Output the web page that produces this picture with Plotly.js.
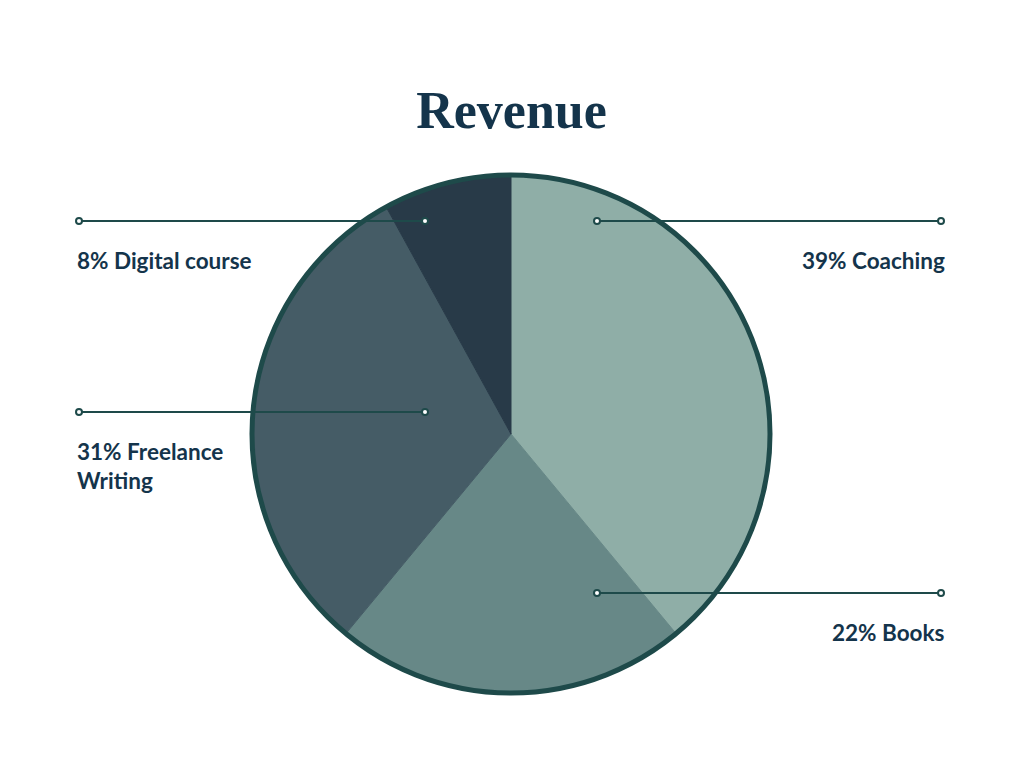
<!DOCTYPE html>
<html>
<head>
<meta charset="utf-8">
<script src="https://cdn.plot.ly/plotly-3.0.1.min.js"></script>
<style>html,body{margin:0;padding:0;background:#fff;}#chart{width:1023px;height:768px;}</style>
</head>
<body>
<div id="chart"></div>
<script>
const categories = ["Coaching", "Books", "Freelance Writing", "Digital course"];
const values = [39, 22, 31, 8];
const sliceColors = ["#8faea7", "#678887", "#455c66", "#283a48"];
const labelTexts = ["39% Coaching", "22% Books", "31% Freelance<br>Writing", "8% Digital course"];

const W = 1023, H = 768;
const px = x => x / W;
const py = y => 1 - y / H;
const cx = 511, cy = 434, R = 259;

const textColor = "#14344b";
const lineColor = "#1e4a4a";

// leader line layout (decoration positions)
const leaders = [
  {x0: 597, x1: 941, y: 221, tx: 945, ty: 260, anchor: "right"},
  {x0: 597, x1: 941, y: 593, tx: 945, ty: 632, anchor: "right"},
  {x0: 79, x1: 425, y: 412, tx: 77, ty: 466, anchor: "left"},
  {x0: 79, x1: 425, y: 221, tx: 77, ty: 260, anchor: "left"}
];

const shapes = [{
  type: "circle", xref: "paper", yref: "paper",
  x0: px(cx - R), x1: px(cx + R), y0: py(cy + R), y1: py(cy - R),
  line: {color: lineColor, width: 5}, fillcolor: "rgba(0,0,0,0)", layer: "above"
}];
const annotations = [];
leaders.forEach((l, i) => {
  shapes.push({type: "line", xref: "paper", yref: "paper",
    x0: px(l.x0), x1: px(l.x1), y0: py(l.y), y1: py(l.y),
    line: {color: lineColor, width: 2}, layer: "above"});
  [l.x0, l.x1].forEach(x => {
    shapes.push({type: "circle", xref: "paper", yref: "paper",
      xsizemode: "pixel", ysizemode: "pixel", xanchor: px(x), yanchor: py(l.y),
      x0: -3, x1: 3, y0: -3, y1: 3,
      line: {color: lineColor, width: 2}, fillcolor: "#ffffff", layer: "above"});
  });
  annotations.push({xref: "paper", yref: "paper", x: px(l.tx), y: py(l.ty),
    xanchor: l.anchor, yanchor: "middle", align: l.anchor, showarrow: false,
    borderpad: 0, borderwidth: 0,
    text: "<b>" + labelTexts[i] + "</b>",
    font: {family: "Lato, 'Open Sans', sans-serif", size: 22.5, color: textColor}});
});

const data = [{
  type: "pie",
  labels: categories,
  values: values,
  sort: false,
  direction: "clockwise",
  rotation: 0,
  marker: {colors: sliceColors, line: {width: 1, color: sliceColors}},
  textinfo: "none",
  hoverinfo: "label+percent",
  showlegend: false,
  domain: {x: [px(cx - R), px(cx + R)], y: [py(cy + R), py(cy - R)]}
}];

const layout = {
  width: W, height: H,
  margin: {l: 0, r: 0, t: 0, b: 0},
  paper_bgcolor: "#ffffff",
  title: {text: "<b>Revenue</b>", x: 0.5, xanchor: "center", y: py(110), yanchor: "middle",
    font: {family: "'Liberation Serif', 'DejaVu Serif', serif", size: 52, color: textColor}},
  shapes: shapes,
  annotations: annotations,
  showlegend: false
};

Plotly.newPlot("chart", data, layout, {displayModeBar: false, staticPlot: true});
</script>
</body>
</html>
